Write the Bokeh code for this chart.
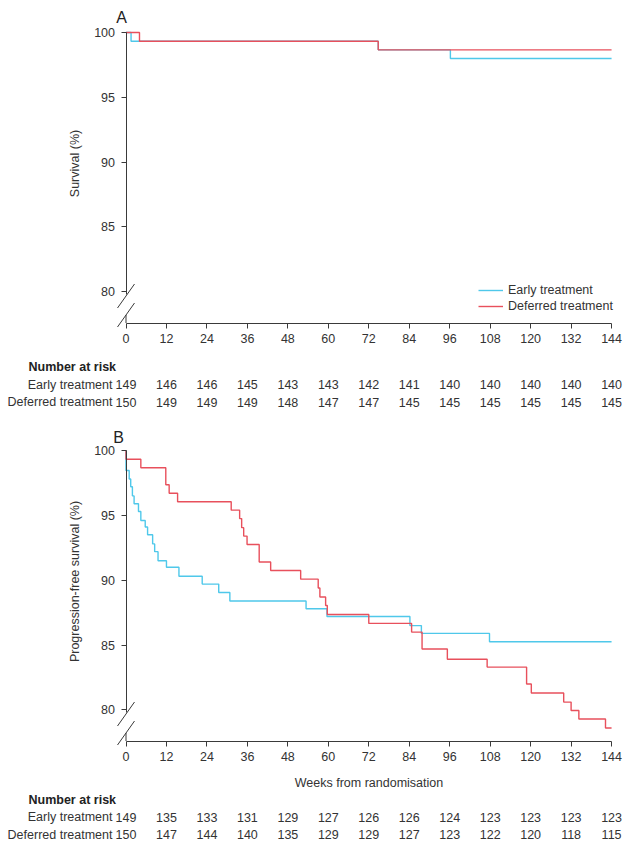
from bokeh.plotting import figure
from bokeh.layouts import column
from bokeh.models import FixedTicker, Range1d
from bokeh.core.properties import value
from bokeh.embed import file_html
from bokeh.resources import INLINE

# ---------------- data ----------------
weeks = [0, 12, 24, 36, 48, 60, 72, 84, 96, 108, 120, 132, 144]
y_ticks = [80, 85, 90, 95, 100]
groups = ["Early treatment", "Deferred treatment"]

# Panel A: overall survival (%)
a_early_t = [0, 1.5, 74.8, 96.2, 144]
a_early_s = [100, 99.33, 98.66, 97.99, 97.99]
a_def_t = [0, 4.0, 74.8, 144]
a_def_s = [100, 99.33, 98.66, 98.66]

# Panel B: progression-free survival (%)
b_early_t = [0, 0, 0.95, 1.4, 1.9, 2.4, 3.7, 4.4, 5.7, 6.4, 7.9, 8.5, 9.5, 12.0,
             15.7, 22.6, 27.5, 30.8, 53.4, 59.6, 84.2, 87.6, 107.8, 144]
b_early_s = [100, 98.46, 97.8, 97.2, 96.5, 95.9, 95.3, 94.6, 94.1, 93.5, 92.8, 92.2,
             91.5, 91.0, 90.3, 89.7, 89.05, 88.4, 87.8, 87.2, 86.5, 85.9, 85.25, 85.25]
b_def_t = [0, 0, 4.4, 11.8, 12.8, 15.3, 31.2, 33.7, 34.3, 34.9, 35.9, 39.5, 42.9,
           51.8, 57.0, 57.5, 59.2, 59.7, 72.0, 84.7, 87.8, 95.3, 107.1, 118.8, 120.2,
           129.8, 132.0, 134.3, 142.2, 144]
b_def_s = [100, 99.33, 98.67, 97.36, 96.7, 96.05, 95.4, 94.75, 94.05, 93.4, 92.75,
           91.4, 90.75, 90.08, 89.4, 88.7, 88.05, 87.35, 86.67, 86.0, 84.7, 83.9, 83.3,
           82.0, 81.3, 80.6, 79.95, 79.3, 78.6, 78.6]

# Number at risk
risk_a_early = [149, 146, 146, 145, 143, 143, 142, 141, 140, 140, 140, 140, 140]
risk_a_def = [150, 149, 149, 149, 148, 147, 147, 145, 145, 145, 145, 145, 145]
risk_b_early = [149, 135, 133, 131, 129, 127, 126, 126, 124, 123, 123, 123, 123]
risk_b_def = [150, 147, 144, 140, 135, 129, 129, 127, 123, 122, 120, 118, 115]

# ---------------- style / geometry ----------------
FONT = "Liberation Sans"
FS = "12.5px"
CYAN = "#4fc8ea"
RED = "#e8505c"
AX = "#3a3a3a"
TXT = "#333333"
W = 625
PAGE_LEFT = 0
X0_PAGE = 125.5
PXW = 3.372  # px per week


def make_panel(letter, top, height, y100, pxp, early_t, early_s, def_t, def_s,
               risk_e, risk_d, ylabel, xlabel, rows, letter_xy, legend):
    def pv(py):
        return 100 - (py - y100) / pxp

    def pt(px):
        return (px - X0_PAGE) / PXW

    x_start = pt(PAGE_LEFT)
    x_end = x_start + W / PXW
    y_end = pv(top)
    y_start = pv(top + height)
    x_axis_y = pv(y100 + 290.5)

    p = figure(width=W, height=height, output_backend="svg", toolbar_location=None,
               x_range=Range1d(x_start, x_end), y_range=Range1d(y_start, y_end),
               min_border=0, min_border_left=0, min_border_right=0,
               min_border_top=0, min_border_bottom=0)
    p.outline_line_color = None
    p.xgrid.visible = False
    p.ygrid.visible = False
    p.background_fill_color = "white"

    # axes at fixed locations
    xa = p.xaxis[0]
    xa.fixed_location = x_axis_y
    xa.bounds = (0, 144)
    xa.ticker = FixedTicker(ticks=weeks)
    xa.minor_tick_line_color = None
    xa.major_tick_in = 0
    xa.major_tick_out = 5
    xa.major_label_standoff = 6
    xa.axis_line_color = AX
    xa.major_tick_line_color = AX
    xa.major_label_text_font = FONT
    xa.major_label_text_font_size = FS
    xa.major_label_text_color = TXT
    if xlabel:
        xa.axis_label = xlabel
        xa.axis_label_text_font = FONT
        xa.axis_label_text_font_size = FS
        xa.axis_label_text_font_style = "normal"
        xa.axis_label_text_color = TXT
        xa.axis_label_standoff = 11

    ya = p.yaxis[0]
    ya.fixed_location = 0
    ya.bounds = (pv(y100 + 262), 100)
    ya.ticker = FixedTicker(ticks=y_ticks)
    ya.minor_tick_line_color = None
    ya.major_tick_in = 0
    ya.major_tick_out = 5
    ya.major_label_standoff = 6
    ya.axis_line_color = AX
    ya.major_tick_line_color = AX
    ya.major_label_text_font = FONT
    ya.major_label_text_font_size = FS
    ya.major_label_text_color = TXT
    ya.axis_label = ylabel
    ya.axis_label_text_font = FONT
    ya.axis_label_text_font_size = FS
    ya.axis_label_text_font_style = "normal"
    ya.axis_label_text_color = TXT
    ya.axis_label_standoff = 10

    # axis break
    ax_page = y100 + 290.5
    p.segment(x0=[0], y0=[x_axis_y], x1=[0], y1=[pv(ax_page - 8)], line_color=AX, line_width=1)
    p.segment(x0=[pt(117), pt(117)], y0=[pv(ax_page - 15), pv(ax_page + 4)],
              x1=[pt(134), pt(134)], y1=[pv(ax_page - 39), pv(ax_page - 20)],
              line_color=AX, line_width=1)

    # curves
    if legend:
        p.step(early_t, early_s, mode="after", line_color=CYAN, line_width=1.4,
               legend_label=groups[0])
        p.step(def_t, def_s, mode="after", line_color=RED, line_width=1.4,
               legend_label=groups[1])
        lg = p.legend[0]
        lg.location = legend
        lg.border_line_color = None
        lg.background_fill_alpha = 0
        lg.padding = 0
        lg.margin = 0
        lg.spacing = 0
        lg.label_height = 16
        lg.glyph_height = 16
        lg.glyph_width = 25
        lg.label_standoff = 5
        lg.label_text_font = FONT
        lg.label_text_font_size = FS
        lg.label_text_color = TXT
    else:
        p.step(early_t, early_s, mode="after", line_color=CYAN, line_width=1.4)
        p.step(def_t, def_s, mode="after", line_color=RED, line_width=1.4)

    # panel letter
    p.text(x=[pt(letter_xy[0])], y=[pv(letter_xy[1])], text=[letter],
           text_font=value(FONT), text_font_size=value("16px"),
           text_align="center", text_baseline="middle", text_color="#222222")

    # number at risk
    head_y, e_y, d_y = rows
    p.text(x=[pt(28)], y=[pv(head_y)], text=["Number at risk"], text_font=value(FONT),
           text_font_size=value(FS), text_font_style="bold", text_align="left",
           text_baseline="middle", text_color="#222222")
    p.text(x=[pt(112), pt(112)], y=[pv(e_y), pv(d_y)], text=groups, text_font=value(FONT),
           text_font_size=value(FS), text_align="right", text_baseline="middle",
           text_color=TXT)
    p.text(x=weeks, y=[pv(e_y)] * len(weeks), text=[str(v) for v in risk_e],
           text_font=value(FONT), text_font_size=value(FS), text_align="center",
           text_baseline="middle", text_color=TXT)
    p.text(x=weeks, y=[pv(d_y)] * len(weeks), text=[str(v) for v in risk_d],
           text_font=value(FONT), text_font_size=value(FS), text_align="center",
           text_baseline="middle", text_color=TXT)
    return p


TOP_A = 0
H_A = 414
pA = make_panel("A", TOP_A, H_A, 32, 12.95, a_early_t, a_early_s, a_def_t, a_def_s,
                risk_a_early, risk_a_def, "Survival (%)", None, (366, 384, 401.5),
                (121, 17), (478, H_A - 314))
pB = make_panel("B", TOP_A + H_A, 428, 450, 12.97, b_early_t, b_early_s, b_def_t, b_def_s,
                risk_b_early, risk_b_def, "Progression-free survival (%)",
                "Weeks from randomisation", (799, 816.5, 834), (118, 437), None)

layout = column(pA, pB, spacing=0)
open("out.html", "w").write(file_html(layout, INLINE))
